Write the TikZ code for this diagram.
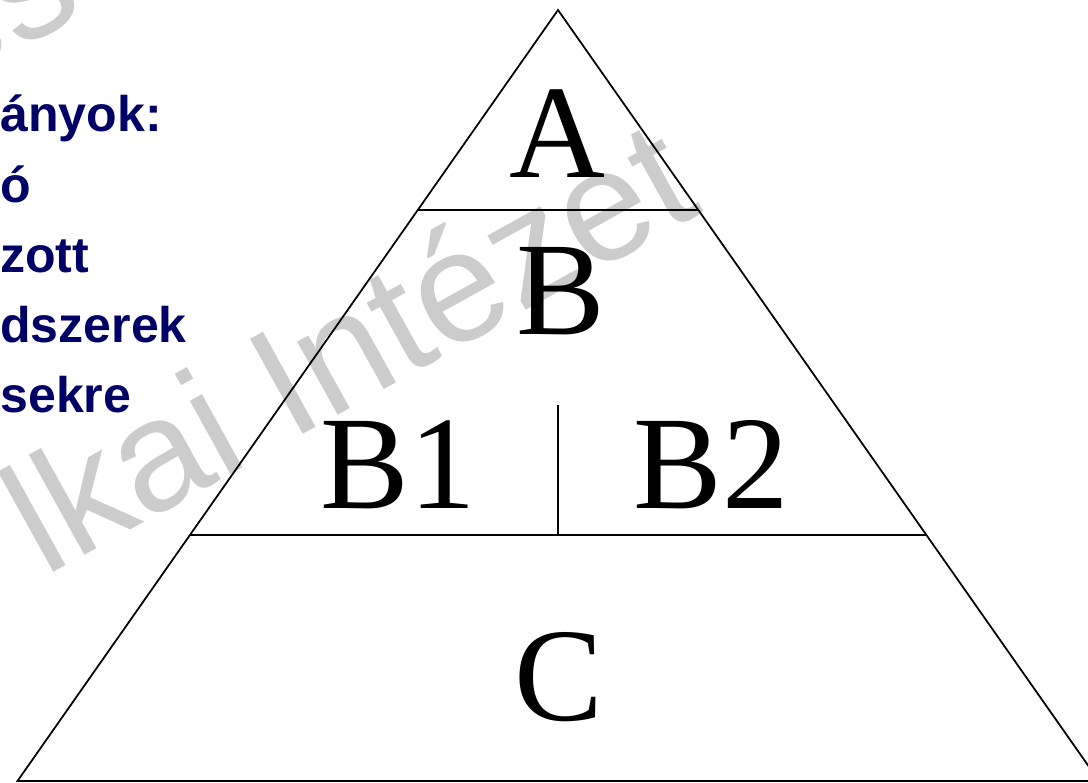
\documentclass[tikz,border=0pt]{standalone}
\usepackage{fontspec}
\setmainfont{Liberation Serif}
\newfontfamily\arialfont{Liberation Sans}
\usepackage{tikz}
\usetikzlibrary{calc}
\definecolor{figN}{RGB}{0,0,102}
\definecolor{figW}{RGB}{204,204,204}
\tikzset{
  lvl/.style={font=\fontsize{75.7}{80}\selectfont, inner sep=0pt, anchor=base},
  sidetext/.style={font=\arialfont\bfseries\fontsize{28.5}{34}\selectfont, text=figN, inner sep=0pt, anchor=base west},
  wmark/.style={font=\arialfont\fontsize{90}{90}\selectfont, text=figW, inner sep=0pt, rotate=29},
  edge/.style={line width=1pt}
}

\begin{document}
\begin{tikzpicture}[x=0.02cm, y=-0.02cm]
\useasboundingbox (0,0) rectangle (1088,783);
\clip (0,0) rectangle (1088,783);
% watermark, behind everything
\node[wmark, anchor=base west] (wmA) at (44,578) {lkai Intézet};
\node[wmark, anchor=base east] (wmB) at (88,12) {es};
% side text, cut off at the left margin
\foreach \txt [count=\i] in {ányok:, ó, zott, dszerek, sekre}
  \node[sidetext] (side\i) at (0,{132+70.25*(\i-1)}) {\txt};
% pyramid: apex and base corners (right corner lies outside the page)
\coordinate (apex) at (558,10);
\coordinate (bl) at (17.5,781);
\coordinate (br) at (1099,781);
\draw[edge] (apex) -- (bl) -- (br) -- cycle;
% level lines
\coordinate (l1) at ($(apex)!0.2594!(bl)$);
\coordinate (r1) at ($(apex)!0.2594!(br)$);
\coordinate (l2) at ($(apex)!0.681!(bl)$);
\coordinate (r2) at ($(apex)!0.681!(br)$);
\coordinate (mid) at ($(l2)!0.5!(r2)$);
\coordinate (midtop) at (mid |- 0,405);
\draw[edge] (l1) -- (r1);
\draw[edge] (l2) -- (r2);
\draw[edge] (mid) -- (midtop);
% level labels
\node[lvl] (A) at (558,178) {A};
\node[lvl] (B) at (561,335) {B};
\node[lvl] (B1) at (398.5,508) {B1};
\node[lvl] (B2) at (711.5,508) {B2};
\node[lvl] (C) at (559,720) {C};
\end{tikzpicture}
\end{document}
